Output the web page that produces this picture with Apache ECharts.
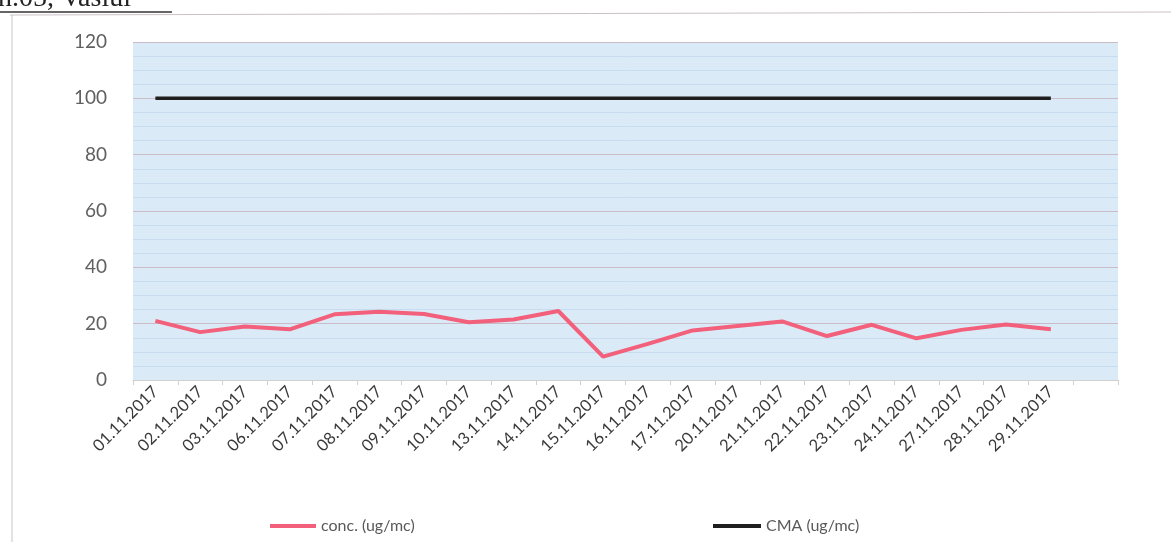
<!DOCTYPE html>
<html>
<head>
<meta charset="utf-8">
<script src="https://cdn.jsdelivr.net/npm/echarts@6/dist/echarts.min.js"></script>
<style>
  html, body { margin: 0; padding: 0; background: #fff; }
  #chart { width: 1171px; height: 542px; }
</style>
</head>
<body>
<div id="chart"></div>
<script>
// date di prelievo (ultima categoria vuota, come nel grafico originale)
const dates = [
  '01.11.2017', '02.11.2017', '03.11.2017', '06.11.2017', '07.11.2017',
  '08.11.2017', '09.11.2017', '10.11.2017', '13.11.2017', '14.11.2017',
  '15.11.2017', '16.11.2017', '17.11.2017', '20.11.2017', '21.11.2017',
  '22.11.2017', '23.11.2017', '24.11.2017', '27.11.2017', '28.11.2017',
  '29.11.2017', ''
]
const concValues = [
  21, 17, 19, 18, 23.3, 24.2, 23.4, 20.5, 21.5, 24.5,
  8.3, 12.8, 17.6, 19.2, 20.8, 15.6, 19.6, 14.8, 17.8, 19.7,
  18
]
const cmaValues = [
  100, 100, 100, 100, 100, 100, 100, 100, 100, 100,
  100, 100, 100, 100, 100, 100, 100, 100, 100, 100,
  100
]
const yTicks = [0, 20, 40, 60, 80, 100, 120]

const labelFont = 'Lato, "Open Sans", sans-serif'

let myChart = echarts.init(document.getElementById('chart'))

let option = {
  animation: false,
  backgroundColor: '#ffffff',
  textStyle: {
    fontFamily: labelFont
  },
  graphic: [
    // testo del documento scansionato, tagliato in alto
    {
      type: 'text',
      left: -2,
      top: -15,
      style: {
        text: 'n.05, Vaslui',
        font: '28px "Liberation Serif", serif',
        fill: '#222'
      }
    },
    {
      type: 'line',
      shape: { x1: 0, y1: 12, x2: 172, y2: 12 },
      style: { stroke: '#333', lineWidth: 1.5 }
    },
    // cornice del grafico
    {
      type: 'line',
      shape: { x1: 10, y1: 15, x2: 1171, y2: 12 },
      style: { stroke: '#c9c1c8', lineWidth: 1 }
    },
    {
      type: 'line',
      shape: { x1: 12, y1: 15, x2: 12, y2: 542 },
      style: { stroke: '#c9c1c8', lineWidth: 1 }
    }
  ],
  legend: [
    {
      data: ['conc. (ug/mc)'],
      left: 265,
      top: 513,
      itemWidth: 46,
      itemHeight: 4,
      itemGap: 4,
      icon: 'rect',
      textStyle: { color: '#595959', fontSize: 16, fontFamily: labelFont }
    },
    {
      data: ['CMA (ug/mc)'],
      left: 708,
      top: 513,
      itemWidth: 48,
      itemHeight: 4,
      icon: 'rect',
      textStyle: { color: '#595959', fontSize: 16, fontFamily: labelFont }
    }
  ],
  grid: {
    left: 133,
    top: 42,
    right: 53,
    bottom: 162,
    show: true,
    backgroundColor: '#dbeaf7',
    borderWidth: 0
  },
  xAxis: {
    type: 'category',
    boundaryGap: true,
    data: dates,
    axisLine: { show: true, lineStyle: { color: '#d0d0d0' } },
    axisTick: { show: true, length: 5, lineStyle: { color: '#d0d0d0' } },
    axisLabel: {
      interval: 0,
      rotate: 45,
      color: '#3a3a3a',
      fontSize: 16.5,
      fontFamily: labelFont,
      margin: 9
    }
  },
  yAxis: {
    type: 'value',
    min: yTicks[0],
    max: yTicks[yTicks.length - 1],
    interval: 20,
    axisLine: { show: false },
    axisTick: { show: false },
    axisLabel: {
      color: '#606060',
      fontSize: 19,
      fontFamily: labelFont,
      margin: 26
    },
    splitLine: { show: true, lineStyle: { color: '#c9bcc6', width: 1 } },
    minorTick: { show: false, splitNumber: 4 },
    minorSplitLine: { show: true, lineStyle: { color: '#c8dcef', width: 1 } }
  },
  series: [
    {
      name: 'conc. (ug/mc)',
      type: 'line',
      data: concValues,
      symbol: 'none',
      color: '#f2607c',
      lineStyle: { color: '#f2607c', width: 4 }
    },
    {
      name: 'CMA (ug/mc)',
      type: 'line',
      data: cmaValues,
      symbol: 'none',
      color: '#1f1f1f',
      lineStyle: { color: '#1f1f1f', width: 3.5 }
    }
  ]
}

myChart.setOption(option)
</script>
</body>
</html>
